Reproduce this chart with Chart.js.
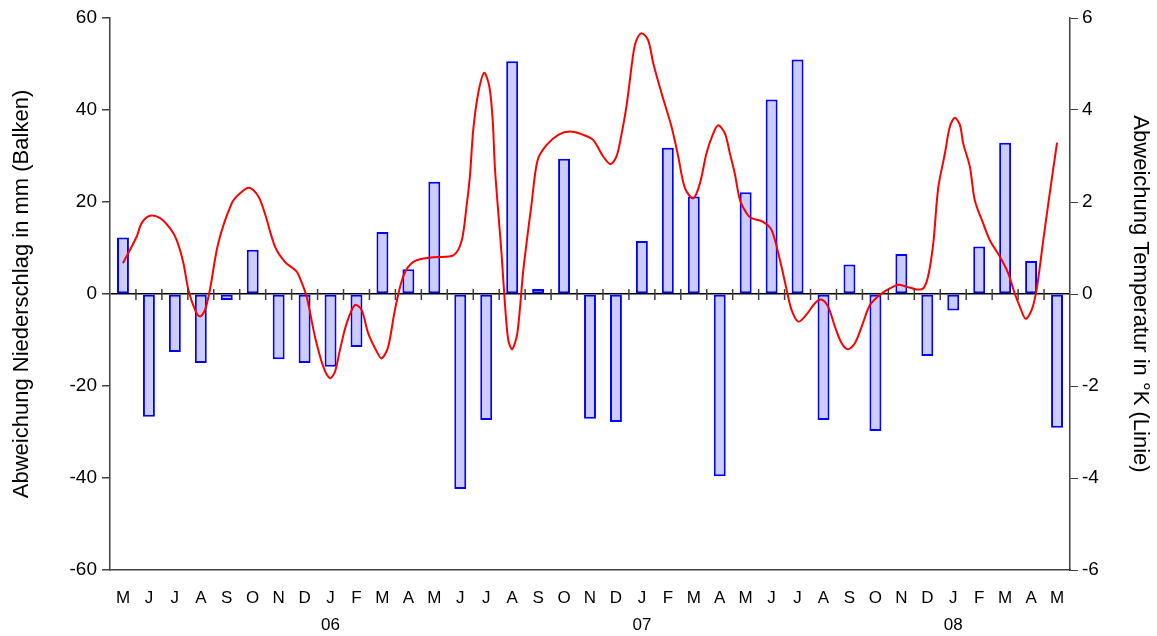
<!DOCTYPE html>
<html>
<head>
<meta charset="utf-8">
<script src="https://cdn.jsdelivr.net/npm/chart.js@4/dist/chart.umd.min.js"></script>
<style>
  html, body { margin:0; padding:0; background:#fff; }
  #wrap { width:1157px; height:636px; }
</style>
</head>
<body>
<div id="wrap"><canvas id="chart" width="1157" height="636"></canvas></div>
<script>
// months from May 2005 to May 2008
const months = ['M','J','J','A','S','O','N','D','J','F','M','A','M','J','J','A','S','O','N','D','J','F','M','A','M','J','J','A','S','O','N','D','J','F','M','A','M']
const yearNames = ['06','07','08']
const yearAt = [8,20,32]

// precipitation deviation in mm (bars)
const rain = [12.3,-26.7,-12.6,-15,-1.3,9.6,-14.2,-15,-15.8,-11.5,13.5,5.4,24.4,-42.4,-27.4,50.6,1.1,29.4,-27.1,-27.8,11.5,31.8,21.2,-39.6,22.1,42.3,51,-27.4,6.4,-29.8,8.7,-13.5,-3.6,10.3,32.9,7.2,-29.1]

// temperature deviation in K (line), x = month index
const tempX = [0,0.53,0.72,1.04,1.43,1.81,2.07,2.33,2.52,2.78,2.97,3.16,3.35,3.67,4.19,4.51,4.86,5.22,5.47,5.86,6.24,6.69,6.85,7.08,7.4,7.72,7.98,8.17,8.36,8.62,8.94,9.2,9.45,9.78,9.97,10.22,10.48,10.8,11.19,11.96,12.73,13.05,13.24,13.37,13.5,13.69,13.92,14.12,14.25,14.34,14.59,14.72,14.85,15,15.2,15.43,15.75,15.98,16.33,16.78,17.23,17.74,18.12,18.51,18.79,19.02,19.19,19.41,19.67,19.79,19.99,20.24,20.44,20.76,21.14,21.4,21.66,21.98,22.24,22.49,22.75,22.94,23.2,23.39,23.58,23.78,24.04,24.22,24.67,25,25.32,25.58,25.77,26.03,26.34,26.67,26.92,27.18,27.44,27.7,27.95,28.21,28.47,28.79,29.17,29.56,29.88,30.2,30.59,30.84,31.03,31.23,31.42,31.68,31.87,32.06,32.26,32.38,32.64,32.83,33.15,33.41,33.8,34.12,34.37,34.57,34.79,35.02,35.21,35.47,35.72,36]
const tempY = [0.67,1.25,1.54,1.7,1.65,1.43,1.17,0.67,0.09,-0.35,-0.49,-0.35,0.09,1.1,1.97,2.19,2.31,2.12,1.75,1.03,0.7,0.49,0.3,-0.06,-0.93,-1.58,-1.83,-1.69,-1.22,-0.64,-0.24,-0.35,-0.85,-1.25,-1.4,-1.15,-0.35,0.38,0.7,0.8,0.84,1.15,1.9,2.55,3.57,4.36,4.81,4.51,3.78,2.7,0.88,-0.2,-1,-1.2,-0.85,0.52,1.97,2.91,3.24,3.46,3.53,3.46,3.35,2.99,2.82,2.99,3.4,4.1,5.23,5.52,5.67,5.52,5.01,4.36,3.64,2.99,2.3,2.08,2.41,3.06,3.49,3.67,3.49,3.06,2.62,2.04,1.75,1.65,1.57,1.39,0.74,0.09,-0.35,-0.6,-0.45,-0.2,-0.12,-0.28,-0.71,-1.07,-1.2,-1.07,-0.71,-0.24,-0.02,0.12,0.2,0.16,0.1,0.12,0.38,1.1,2.3,3.06,3.64,3.83,3.67,3.28,2.77,2.04,1.54,1.17,0.81,0.45,0.01,-0.28,-0.54,-0.35,0.09,1.17,2.19,3.29]

const labels = months.map((m,i)=>{
    const k = yearAt.indexOf(i)
    return [m, k>=0 ? yearNames[k] : '']
})
const tempPoints = tempX.map((x,i)=>({x:x, y:tempY[i]}))

const FONT = 'Liberation Sans, Arial, sans-serif'
const AXIS = '#404040'

// small tick marks across the zero line between months
const zeroTicks = {
    id:'zeroTicks',
    afterDatasetsDraw(chart){
        const c = chart.ctx
        const xs = chart.scales.x
        const y0 = chart.scales.y.getPixelForValue(0)
        c.save()
        c.strokeStyle = AXIS
        c.lineWidth = 1.5
        c.beginPath()
        for (let i=0;i<months.length-1;i++){
            const bx = (xs.getPixelForValue(i)+xs.getPixelForValue(i+1))/2
            c.moveTo(bx, y0-5)
            c.lineTo(bx, y0+6)
        }
        c.stroke()
        c.restore()
    }
}

const config = {
    type:'bar',
    data:{
        labels:labels,
        datasets:[
            {
                type:'line',
                label:'Temperatur',
                data:tempPoints,
                xAxisID:'xT',
                yAxisID:'yT',
                borderColor:'#ff0000',
                borderWidth:2,
                pointRadius:0,
                tension:0.3,
                fill:false,
                order:0
            },
            {
                label:'Niederschlag',
                data:rain,
                xAxisID:'x',
                yAxisID:'y',
                backgroundColor:'#ccccff',
                borderColor:'#0000ff',
                borderWidth:2,
                borderSkipped:false,
                grouped:false,
                barPercentage:0.46,
                categoryPercentage:1,
                order:1
            }
        ]
    },
    options:{
        responsive:false,
        animation:false,
        layout:{padding:{top:18,right:0,left:0,bottom:0}},
        plugins:{
            legend:{display:false},
            tooltip:{enabled:false}
        },
        scales:{
            x:{
                position:'bottom',
                offset:true,
                grid:{display:false, drawTicks:false},
                border:{display:true, color:AXIS, width:1.5},
                ticks:{
                    color:'#000',
                    font:{family:FONT, size:17, lineHeight:1.6},
                    padding:15,
                    maxRotation:0,
                    autoSkip:false
                },
                afterFit(s){ s.height = 66 }
            },
            xT:{
                type:'linear',
                min:-0.5,
                max:36.5,
                offset:false,
                display:false
            },
            y:{
                position:'left',
                min:-60,
                max:60,
                ticks:{
                    stepSize:20,
                    color:'#000',
                    font:{family:FONT, size:19},
                    padding:5
                },
                grid:{
                    drawOnChartArea:true,
                    color:(ctx)=> ctx.tick && ctx.tick.value===0 ? '#000' : 'rgba(0,0,0,0)',
                    lineWidth:1.5,
                    tickColor:AXIS,
                    tickLength:8
                },
                border:{display:true, color:AXIS, width:1.5},
                title:{
                    display:true,
                    text:'Abweichung Niederschlag in mm (Balken)',
                    color:'#000',
                    font:{family:FONT, size:22},
                    padding:{top:9, bottom:0}
                },
                afterFit(s){ s.width = 110 }
            },
            yT:{
                position:'right',
                min:-6,
                max:6,
                ticks:{
                    stepSize:2,
                    color:'#000',
                    font:{family:FONT, size:19},
                    padding:4
                },
                grid:{
                    drawOnChartArea:false,
                    color:AXIS,
                    tickLength:8
                },
                border:{display:true, color:AXIS, width:1.5},
                title:{
                    display:true,
                    text:'Abweichung Temperatur in °K (Linie)',
                    color:'#000',
                    font:{family:FONT, size:22},
                    padding:{top:4, bottom:0}
                },
                afterFit(s){ s.width = 87 }
            }
        }
    },
    plugins:[zeroTicks]
}

new Chart(document.getElementById('chart'), config)
</script>
</body>
</html>
